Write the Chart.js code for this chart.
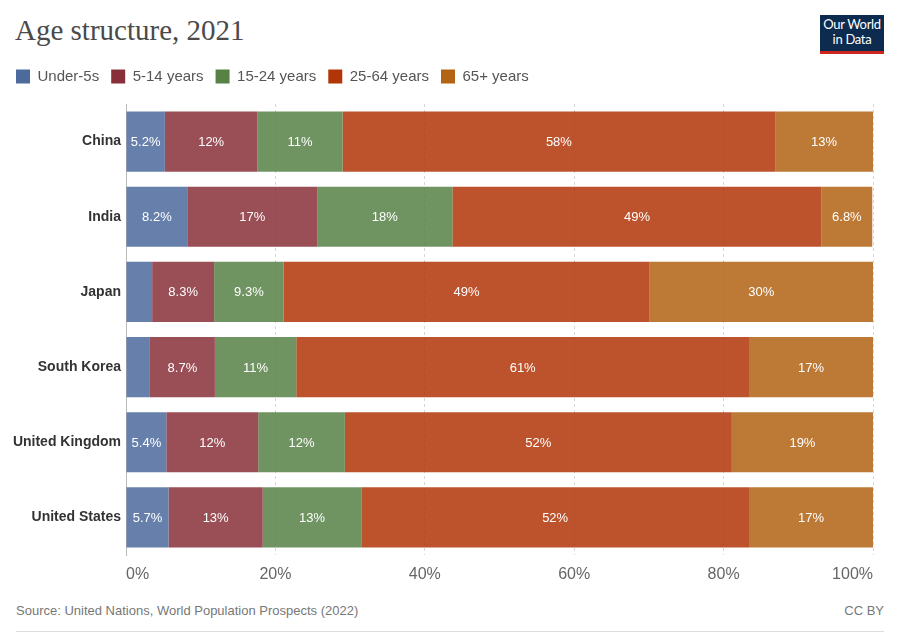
<!DOCTYPE html>
<html>
<head>
<meta charset="utf-8">
<script src="https://cdn.jsdelivr.net/npm/chart.js@4.4.1/dist/chart.umd.min.js"></script>
<style>
  body { margin: 0; background: #fff; }
  #wrap { position: relative; width: 900px; height: 635px; overflow: hidden; font-family: "Liberation Sans", Arial, sans-serif; }
  #title { position: absolute; left: 15px; top: 14px; font-family: "Liberation Serif", serif; font-size: 29px; color: #4a4a4a; }
  #logo { position: absolute; left: 820px; top: 15px; width: 64px; height: 34px; background: #0d2a4f; border-bottom: 3px solid #ce261e; color: #fff; font-family: Lato, sans-serif; font-size: 13px; line-height: 15px; text-align: center; padding-top: 2px; box-sizing: content-box; letter-spacing: -0.3px; }
  #chart { position: absolute; left: 0; top: 57px; }
  #source { position: absolute; left: 16px; top: 603px; font-size: 13px; color: #777; }
  #licence { position: absolute; right: 16px; top: 603px; font-size: 13px; color: #777; }
  #rule { position: absolute; left: 16px; right: 16px; top: 631px; border-top: 1px solid #ddd; }
</style>
</head>
<body>
<div id="wrap">
  <div id="title">Age structure, 2021</div>
  <div id="logo">Our World<br>in Data</div>
  <canvas id="chart" width="900" height="533"></canvas>
  <div id="source">Source: United Nations, World Population Prospects (2022)</div>
  <div id="licence">CC BY</div>
  <div id="rule"></div>
</div>
<script>
'use strict'

// 国
const countries = ['China', 'India', 'Japan', 'South Korea', 'United Kingdom', 'United States'];

// 年齢層ごとの割合 (%)
const under5 = [5.2, 8.2, 3.5, 3.2, 5.4, 5.7];
const age5to14 = [12.4, 17.4, 8.3, 8.7, 12.3, 12.6];
const age15to24 = [11.4, 18.1, 9.3, 10.9, 11.6, 13.2];
const age25to64 = [57.9, 49.4, 49.0, 60.6, 51.8, 51.9];
const age65plus = [13.1, 6.8, 29.9, 16.6, 18.9, 16.6];

const groupNames = ['Under-5s', '5-14 years', '15-24 years', '25-64 years', '65+ years'];
const groupValues = [under5, age5to14, age15to24, age25to64, age65plus];
const solidColors = ['#4c6a9c', '#883039', '#578145', '#b13507', '#b26313'];
const barColors = ['rgba(76,106,156,0.85)', 'rgba(136,48,57,0.85)', 'rgba(87,129,69,0.85)', 'rgba(177,53,7,0.85)', 'rgba(178,99,19,0.85)'];

const xTicks = [0, 20, 40, 60, 80, 100];

// バーの中に数値を書く
const barLabels = {
  id: 'barLabels',
  afterDatasetsDraw(chart) {
    const c = chart.ctx;
    c.save();
    c.font = '13px "Liberation Sans", Arial, sans-serif';
    c.fillStyle = '#fff';
    c.textAlign = 'center';
    c.textBaseline = 'middle';
    chart.data.datasets.forEach((ds, i) => {
      chart.getDatasetMeta(i).data.forEach((bar, j) => {
        const v = ds.data[j];
        const txt = (v >= 10 ? Math.round(v) : v.toFixed(1)) + '%';
        const w = Math.abs(bar.x - bar.base);
        if (c.measureText(txt).width + 6 > w) return;
        c.fillText(txt, (bar.x + bar.base) / 2, bar.y + 1);
      });
    });
    c.restore();
  }
};

// 凡例と棒グラフの間の余白
const legendGap = {
  id: 'legendGap',
  beforeInit(chart) {
    const fit = chart.legend.fit;
    chart.legend.fit = function () {
      fit.bind(chart.legend)();
      this.height += 10;
    };
  }
};

const ctx = document.getElementById('chart');

new Chart(ctx, {
  type: 'bar',
  data: {
    labels: countries,
    datasets: groupNames.map((name, i) => ({
      label: name,
      data: groupValues[i],
      backgroundColor: barColors[i],
      borderWidth: 0,
      barPercentage: 0.8,
      categoryPercentage: 1,
    })),
  },
  options: {
    indexAxis: 'y',
    responsive: false,
    animation: false,
    layout: { padding: { left: 4, right: 27, top: 0, bottom: 5 } },
    plugins: {
      tooltip: { enabled: false },
      legend: {
        position: 'top',
        align: 'start',
        labels: {
          boxWidth: 14,
          boxHeight: 14,
          padding: 12,
          color: '#555',
          font: { family: '"Liberation Sans", Arial, sans-serif', size: 15 },
          generateLabels(chart) {
            const items = Chart.defaults.plugins.legend.labels.generateLabels(chart);
            items.forEach((it, i) => {
              it.fillStyle = solidColors[i];
              it.strokeStyle = solidColors[i];
              it.lineWidth = 0;
            });
            return items;
          },
        },
      },
    },
    scales: {
      x: {
        stacked: true,
        min: 0,
        max: 100,
        afterBuildTicks(scale) {
          scale.ticks = xTicks.map(v => ({ value: v }));
        },
        afterFit(scale) { scale.height = 30; },
        grid: {
          color: '#d6d6d6',
          drawTicks: false,
        },
        border: { display: false, dash: [3, 3] },
        ticks: {
          align: 'inner',
          padding: 10,
          color: '#666',
          font: { family: '"Liberation Sans", Arial, sans-serif', size: 16 },
          callback: v => v + '%',
        },
      },
      y: {
        stacked: true,
        afterFit(scale) { scale.width = 122; },
        grid: { display: false, drawTicks: false, tickLength: 0 },
        border: { display: true, color: '#bbb', width: 1 },
        ticks: {
          padding: 5,
          color: '#333',
          font: { family: '"Liberation Sans", Arial, sans-serif', size: 14, weight: 'bold' },
        },
      },
    },
  },
  plugins: [barLabels, legendGap],
});
</script>
</body>
</html>
